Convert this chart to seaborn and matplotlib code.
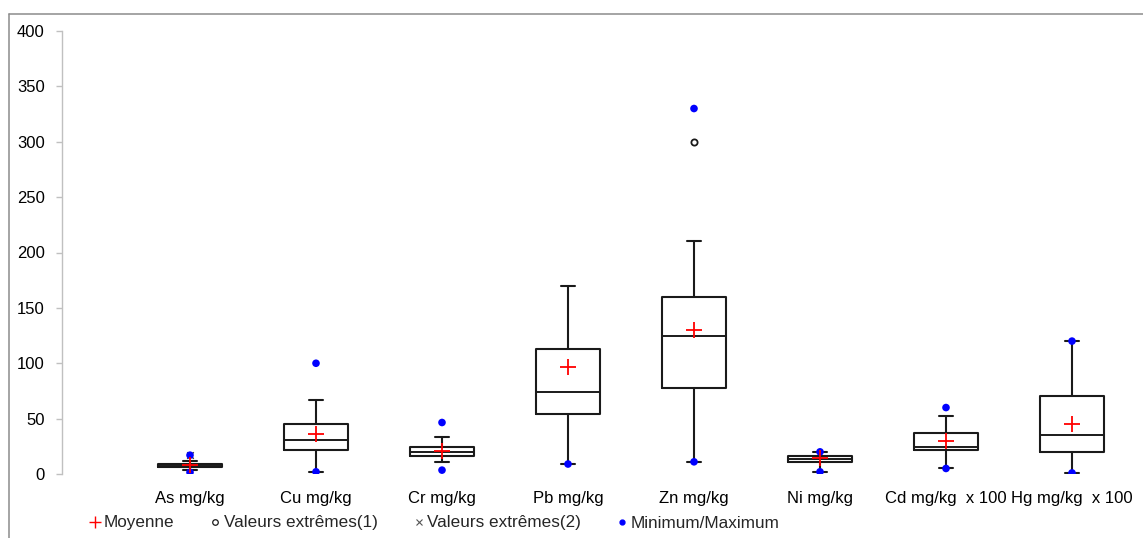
import numpy as np
import pandas as pd
import matplotlib.pyplot as plt
import seaborn as sns
from matplotlib.lines import Line2D

# --- data ---
categories = ['As mg/kg', 'Cu mg/kg', 'Cr mg/kg', 'Pb mg/kg', 'Zn mg/kg',
              'Ni mg/kg', 'Cd mg/kg  x 100', 'Hg mg/kg  x 100']
q1 = [6.5, 21.5, 16.5, 54, 77.5, 10.5, 21.5, 19.5]
medians = [8, 31, 20, 74, 125, 13.5, 24.5, 35]
q3 = [9, 45.5, 24.5, 112.5, 160, 16.5, 37, 70]
whisker_low = [3.5, 2, 11, 9, 11, 2, 5, 1]
whisker_high = [11.5, 66.5, 33, 170, 210, 19.5, 52, 120]
means = [8, 36, 21, 97, 130, 14.5, 30, 45]
minimums = [1.5, 2, 3.5, 9, 11, 2, 5, 1]
maximums = [17, 100, 46.5, np.nan, 330, 20, 60, 120]
extremes1 = {'Zn mg/kg': [300]}
extremes2 = {'As mg/kg': [17]}

sns.set_style('white')
plt.rcParams['font.family'] = ['Liberation Sans', 'DejaVu Sans']

fig = plt.figure(figsize=(11.43, 5.38), dpi=100)
ax = fig.add_axes([62 / 1143, 64 / 538, (1140 - 62) / 1143, (474 - 31) / 538])

# boxes from the precomputed statistics
stats = []
for i, cat in enumerate(categories):
    stats.append(dict(label=cat, q1=q1[i], med=medians[i], q3=q3[i],
                      whislo=whisker_low[i], whishi=whisker_high[i], fliers=[]))
pos = np.arange(len(categories))
line = dict(color='#1a1a1a', linewidth=1.5)
ax.bxp(stats, positions=pos, widths=0.51, capwidths=0.11, showfliers=False,
       boxprops=line, whiskerprops=line, capprops=line,
       medianprops=dict(color='#1a1a1a', linewidth=1.4))

# points
pts = pd.DataFrame({'x': np.concatenate([pos, pos]),
                    'y': minimums + maximums}).dropna()
sns.scatterplot(data=pts, x='x', y='y', ax=ax, color='#0000ff', s=30,
                edgecolor='none', zorder=5)
mean_df = pd.DataFrame({'x': pos, 'y': means})
sns.scatterplot(data=mean_df, x='x', y='y', ax=ax, marker='+', color='#ff0000',
                s=120, linewidth=1.3, zorder=6)
ex1 = pd.DataFrame([(categories.index(k), v) for k, vals in extremes1.items() for v in vals],
                   columns=['x', 'y'])
sns.scatterplot(data=ex1, x='x', y='y', ax=ax, marker='o', facecolor='white',
                edgecolor='#1a1a1a', linewidth=1.3, s=20, zorder=6)
ex2 = pd.DataFrame([(categories.index(k), v) for k, vals in extremes2.items() for v in vals],
                   columns=['x', 'y'])
sns.scatterplot(data=ex2, x='x', y='y', ax=ax, marker='x', color='#333333',
                s=22, linewidth=1, zorder=4)

ax.set_xlim(-128 / 126, 7 + 68 / 126)
ax.set_ylim(0, 400)
ax.set_yticks(range(0, 401, 50))
ax.set_xticks(pos)
ax.set_xticklabels(categories)
ax.set_xlabel('')
ax.set_ylabel('')
for s in ['top', 'right', 'bottom']:
    ax.spines[s].set_visible(False)
ax.spines['left'].set_color('#c0c0c0')
ax.spines['left'].set_linewidth(1)
ax.tick_params(axis='y', direction='out', length=4.5, width=1, color='#c0c0c0',
               pad=8, labelsize=12, labelcolor='black', left=True)
ax.tick_params(axis='x', length=0, pad=12, labelsize=12, labelcolor='black')

# legend
handles = [
    Line2D([], [], linestyle='none', marker='+', color='#ff0000', markersize=9, markeredgewidth=1),
    Line2D([], [], linestyle='none', marker='o', markerfacecolor='white',
           markeredgecolor='#1a1a1a', markersize=4, markeredgewidth=0.9),
    Line2D([], [], linestyle='none', marker='x', color='#555555', markersize=5, markeredgewidth=0.8),
    Line2D([], [], linestyle='none', marker='o', color='#0000ff', markersize=3.5),
]
labels = ['Moyenne', 'Valeurs extrêmes(1)', 'Valeurs extrêmes(2)', 'Minimum/Maximum']
fig.legend(handles, labels, loc='center left', bbox_to_anchor=(90 / 1143, 1 - 523 / 538),
           ncol=4, frameon=False, fontsize=12.3, handlelength=0.6, handletextpad=0.2,
           columnspacing=2.1, borderaxespad=0, borderpad=0)

# chart frame (cropped at right/bottom)
fig.add_artist(Line2D([8.5 / 1143, 8.5 / 1143], [0, 1 - 13.5 / 538],
                      transform=fig.transFigure, color='#8c8c8c', linewidth=1.1))
fig.add_artist(Line2D([8.5 / 1143, 1], [1 - 13.5 / 538, 1 - 13.5 / 538],
                      transform=fig.transFigure, color='#8c8c8c', linewidth=1.1))

fig.savefig('out.png', dpi=100)
